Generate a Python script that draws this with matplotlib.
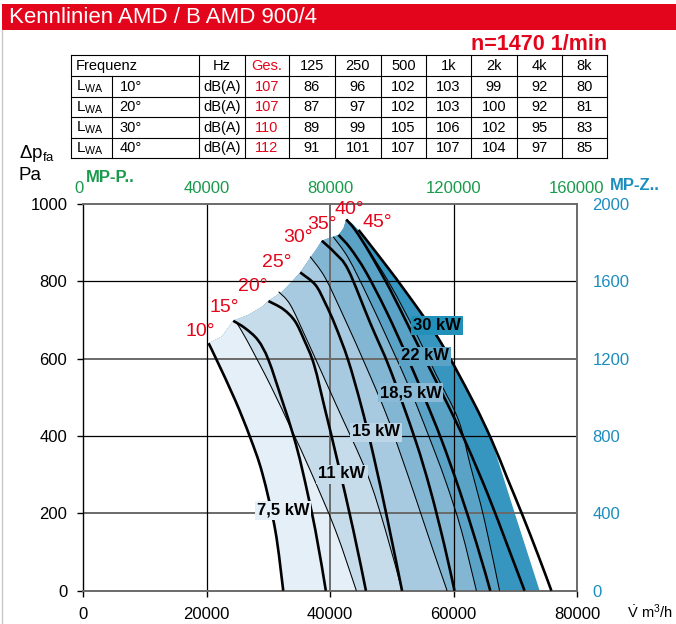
import matplotlib
matplotlib.use('Agg')
import matplotlib.pyplot as plt
from matplotlib.patches import Rectangle, PathPatch
from matplotlib.path import Path

plt.rcParams['font.family'] = ['Liberation Sans', 'DejaVu Sans']

# ---------------- data ----------------
title = 'Kennlinien AMD / B AMD 900/4'
speed = 'n=1470 1/min'

blade_angles = ['10°', '15°', '20°', '25°', '30°', '35°', '40°', '45°']

c10_x = [20300, 21600, 24600, 27000, 29000, 31100, 32400]
c10_y = [640, 597, 493, 398, 304, 157, 0]
c15_x = [24300, 26200, 28300, 30000, 32200, 34100, 35500, 37600, 39300]
c15_y = [698, 679, 648, 597, 493, 398, 312, 157, 0]
c20_x = [30000, 32400, 34300, 35800, 37400, 39200, 41150, 43750, 45800]
c20_y = [749, 728, 697, 648, 584, 467, 338, 157, 0]
c25_x = [35150, 37600, 39200, 40800, 42900, 45000, 47000, 49300, 51650]
c25_y = [823, 791, 744, 687, 597, 480, 351, 183, 0]
c30_x = [38650, 40800, 42950, 46500, 49750, 53800, 56250, 58500, 60150]
c30_y = [905, 873, 829, 692, 571, 390, 260, 118, 0]
c35_x = [41350, 43250, 45800, 49150, 52500, 55450, 58050, 60950, 63800, 65950]
c35_y = [920, 886, 824, 721, 604, 493, 390, 260, 118, 0]
c40_x = [42600, 44050, 46500, 49750, 53000, 56250, 59250, 62150, 65600, 68700, 71500]
c40_y = [960, 933, 871, 778, 674, 571, 475, 377, 247, 118, 0]
c45_x = [44600, 48650, 52850, 57900, 63050, 66150, 68700, 71150, 73700, 75850]
c45_y = [933, 850, 760, 643, 493, 390, 291, 196, 92, 0]

# stall line (upper edge of the working field), from 10° start to 45° start
stall_x = [20300, 22450, 24300, 26750, 28950, 30000, 32200, 33800, 35150, 36750,
           37850, 38650, 40000, 41350, 42150, 42600, 43550, 44600]
stall_y = [640, 657, 698, 713, 734, 749, 773, 799, 823, 860,
           885, 905, 913, 920, 937, 960, 950, 933]

# motor power limit lines (upper limit of each motor size)
motor_labels = ['7,5 kW', '11 kW', '15 kW', '18,5 kW', '22 kW', '30 kW']
lim_7k5_x = [24750, 26500, 30300, 33750, 36750, 40850, 44250]
lim_7k5_y = [695, 648, 532, 416, 312, 157, 0]
lim_11_x = [31650, 33550, 36250, 41000, 45950, 48950, 51650]
lim_11_y = [773, 739, 648, 480, 304, 157, 0]
lim_15_x = [36750, 39200, 42450, 45700, 48950, 51350, 53950, 56400, 58950]
lim_15_y = [864, 809, 700, 584, 462, 356, 235, 118, 0]
lim_18k5_x = [40500, 42950, 46200, 49750, 53000, 55900, 58650, 61250, 63700]
lim_18k5_y = [915, 860, 757, 635, 519, 403, 286, 157, 0]
lim_22_x = [43100, 45700, 49750, 53650, 57200, 60800, 62700, 65000, 67450]
lim_22_y = [953, 894, 791, 674, 558, 441, 325, 183, 0]
lim_30_x = [66150, 70000, 73950]
lim_30_y = [390, 196, 0]

# axes ticks
x_ticks = [0, 20000, 40000, 60000, 80000]
y_ticks = [0, 200, 400, 600, 800, 1000]
top_ticks = [0, 40000, 80000, 120000, 160000]
right_ticks = [0, 400, 800, 1200, 1600, 2000]

# sound table
freq_labels = ['125', '250', '500', '1k', '2k', '4k', '8k']
row_angles = ['10°', '20°', '30°', '40°']
lwa_total = [107, 107, 110, 112]
lwa_10 = [86, 96, 102, 103, 99, 92, 80]
lwa_20 = [87, 97, 102, 103, 100, 92, 81]
lwa_30 = [89, 99, 105, 106, 102, 95, 83]
lwa_40 = [91, 101, 107, 107, 104, 97, 85]

# ---------------- style ----------------
RED = '#e3051b'
GREEN = '#1a9a4c'
BLUE = '#1b8dbf'
band_colors = ['#e4eff7', '#c6dcea', '#a7cae0', '#82b6d2', '#5ba3c6', '#3796bf']
box_colors = ['#e4eff7', '#c6dcea', '#bcd6e7', '#8abad5', '#5ba3c6', '#2390ba']

W, H = 676, 624
fig = plt.figure(figsize=(W / 100, H / 100), dpi=100)


def smooth(xs, ys):
    """Cubic Bezier segments through the read points (Catmull-Rom tangents)."""
    pts = list(zip(xs, ys))
    n = len(pts)
    verts, codes = [], []
    for i in range(n - 1):
        p0 = pts[i - 1] if i > 0 else pts[i]
        p1, p2 = pts[i], pts[i + 1]
        p3 = pts[i + 2] if i + 2 < n else pts[i + 1]
        c1 = (p1[0] + (p2[0] - p0[0]) / 6, p1[1] + (p2[1] - p0[1]) / 6)
        c2 = (p2[0] - (p3[0] - p1[0]) / 6, p2[1] - (p3[1] - p1[1]) / 6)
        verts += [c1, c2, p2]
        codes += [Path.CURVE4] * 3
    return verts, codes


def curve_path(xs, ys):
    v, c = smooth(xs, ys)
    return Path([(xs[0], ys[0])] + v, [Path.MOVETO] + c)


# overlay in pixel coordinates for page decorations
ov = fig.add_axes([0, 0, 1, 1], zorder=0)
ov.set_xlim(0, W)
ov.set_ylim(H, 0)
ov.axis('off')
ov.add_patch(Rectangle((2, 4), W - 2, 26, fc=RED, ec='none'))
ov.text(8.6, 17.5, title, color='white', fontsize=16, va='center', ha='left')
ov.plot([2, 2], [30, H], color='#c8c8c8', lw=1)
ov.text(606.7, 44, speed, color=RED, fontsize=15.5, fontweight='bold', ha='right', va='center')

# table
col_x = [70.5, 111.5, 199.3, 244.5, 289, 335, 381, 426, 470.7, 516.7, 561.5, 606.7]
row_y = [55, 75.7, 96.5, 117.2, 137.8, 158]
for y in row_y:
    ov.plot([col_x[0], col_x[-1]], [y, y], color='black', lw=0.8)
for i, x in enumerate(col_x):
    y0 = row_y[1] if i == 1 else row_y[0]
    ov.plot([x, x], [y0, row_y[-1]], color='black', lw=0.8)


def cell_c(i):
    return (col_x[i] + col_x[i + 1]) / 2


def row_c(r):
    return (row_y[r] + row_y[r + 1]) / 2 + 0.5


tfs = 10.5
ov.text(col_x[0] + 5, row_c(0), 'Frequenz', fontsize=tfs, va='center')
ov.text(cell_c(2), row_c(0), 'Hz', fontsize=tfs, va='center', ha='center')
ov.text(cell_c(3), row_c(0), 'Ges.', fontsize=tfs, va='center', ha='center', color=RED)
for j, f in enumerate(freq_labels):
    ov.text(cell_c(4 + j), row_c(0), f, fontsize=tfs, va='center', ha='center')
rows = [lwa_10, lwa_20, lwa_30, lwa_40]
for r in range(4):
    yc = row_c(r + 1)
    ov.text(col_x[0] + 5, yc, r'$\mathregular{L_{WA}}$', fontsize=tfs + 0.5, va='center')
    ov.text(col_x[1] + 8, yc, row_angles[r], fontsize=tfs, va='center')
    ov.text(cell_c(2), yc, 'dB(A)', fontsize=tfs, va='center', ha='center')
    ov.text(cell_c(3), yc, str(lwa_total[r]), fontsize=tfs, va='center', ha='center', color=RED)
    for j, v in enumerate(rows[r]):
        ov.text(cell_c(4 + j), yc, str(v), fontsize=tfs, va='center', ha='center')

# axis captions
ov.text(19, 154, r'$\mathregular{\Delta p_{fa}}$', fontsize=13.5, va='center', ha='left')
ov.text(19, 176, 'Pa', fontsize=13.5, va='center', ha='left')
ov.text(86, 178, 'MP-P..', fontsize=12, color=GREEN, fontweight='bold', va='center', ha='left')
ov.text(610, 186, 'MP-Z..', fontsize=12, color=BLUE, fontweight='bold', va='center', ha='left')
ov.text(627, 612, r'$\mathregular{\dot{V}\ m^3/h}$', fontsize=10.5, va='center', ha='left')

# ---------------- main chart ----------------
x0, x1, yb, yt = 83.3, 577.0, 590.7, 204.0
ax = fig.add_axes([x0 / W, 1 - yb / H, (x1 - x0) / W, (yb - yt) / H], zorder=1)
ax.set_xlim(0, 80000)
ax.set_ylim(0, 1000)

# envelope of the working field
k = c45_x.index(lim_30_x[0])
ev = [(stall_x[0], stall_y[0])]
ec = [Path.MOVETO]
ev += list(zip(stall_x[1:], stall_y[1:]))
ec += [Path.LINETO] * (len(stall_x) - 1)
v, c = smooth(c45_x[:k + 1], c45_y[:k + 1])
ev += v
ec += c
ev += list(zip(lim_30_x[1:], lim_30_y[1:])) + [(c10_x[-1], c10_y[-1])]
ec += [Path.LINETO] * len(lim_30_x)
v, c = smooth(c10_x[::-1], c10_y[::-1])
ev += v + [(0, 0)]
ec += c + [Path.CLOSEPOLY]
env_patch = PathPatch(Path(ev, ec), fc=band_colors[5], ec='none', zorder=1)
ax.add_patch(env_patch)

limits = [(lim_7k5_x, lim_7k5_y), (lim_11_x, lim_11_y), (lim_15_x, lim_15_y),
          (lim_18k5_x, lim_18k5_y), (lim_22_x, lim_22_y)]
for i in range(4, -1, -1):
    lx, ly = limits[i]
    pv = [(lx[0], 1500), (lx[0], ly[0])]
    pc = [Path.MOVETO, Path.LINETO]
    v, c = smooth(lx, ly)
    pv += v + [(lx[-1], -200), (-10000, -200), (-10000, 1500), (0, 0)]
    pc += c + [Path.LINETO, Path.LINETO, Path.LINETO, Path.CLOSEPOLY]
    p = PathPatch(Path(pv, pc), fc=band_colors[i], ec='none', zorder=1.1 + (4 - i) * 0.01)
    ax.add_patch(p)
    p.set_clip_path(env_patch)

# grid
for yv in y_ticks[1:-1]:
    gray = yv in (600, 200)
    ax.axhline(yv, color='#6a6a6a' if gray else 'black', lw=1.4 if gray else 0.9, zorder=2)
for xv in x_ticks[1:-1]:
    gray = xv == 40000
    ax.axvline(xv, color='#6a6a6a' if gray else 'black', lw=1.4 if gray else 0.9, zorder=2)
for s in ['top', 'bottom', 'right']:
    ax.spines[s].set_color('#6a6a6a')
    ax.spines[s].set_linewidth(1.4)
ax.spines['left'].set_color('black')
ax.spines['left'].set_linewidth(1.0)

# limit lines (thin)
for lx, ly in limits:
    ax.add_patch(PathPatch(curve_path(lx, ly), fill=False, ec='black', lw=0.75, zorder=3))

# blade angle curves (thick)
curves = [(c10_x, c10_y), (c15_x, c15_y), (c20_x, c20_y), (c25_x, c25_y),
          (c30_x, c30_y), (c35_x, c35_y), (c40_x, c40_y), (c45_x, c45_y)]
for cx, cy in curves:
    ax.add_patch(PathPatch(curve_path(cx, cy), fill=False, ec='black', lw=1.9,
                           zorder=4, capstyle='butt'))

ax.set_xticks(x_ticks)
ax.set_xticklabels([str(v) for v in x_ticks])
ax.set_yticks(y_ticks)
ax.set_yticklabels([str(v) for v in y_ticks])
ax.tick_params(axis='both', direction='out', length=4.5, width=1, labelsize=12)
ax.tick_params(axis='x', pad=7)
ax.tick_params(axis='y', pad=7)

top = ax.secondary_xaxis('top', functions=(lambda q: q * 2, lambda q: q / 2))
top.set_xticks(top_ticks)
top.set_xticklabels([str(v) for v in top_ticks])
top.tick_params(length=0, pad=6, labelsize=12, labelcolor=GREEN)
top.spines['top'].set_visible(False)
top.get_xticklabels()[0].set_horizontalalignment('right')

right = ax.secondary_yaxis('right', functions=(lambda q: q * 2, lambda q: q / 2))
right.set_yticks(right_ticks)
right.set_yticklabels([str(v) for v in right_ticks])
right.tick_params(length=0, pad=11, labelsize=12, labelcolor=BLUE)
right.spines['right'].set_visible(False)

# blade angle labels (pixel positions)
angle_pos = [(200, 331), (224, 307.5), (253, 287), (277, 262.5),
             (298, 238), (322, 224), (349, 209.5), (377, 222.5)]
for lab, (px, py) in zip(blade_angles, angle_pos):
    fig.text(px / W, 1 - py / H, lab, color=RED, fontsize=14, ha='center', va='center', zorder=6)

# motor labels
motor_pos = [(283, 510), (342, 474), (376, 432), (410.5, 392.5), (425, 356), (437, 325)]
for lab, (px, py), bc in zip(motor_labels, motor_pos, box_colors):
    fig.text(px / W, 1 - py / H, lab, fontsize=12, fontweight='bold', ha='center', va='center',
             zorder=6, bbox=dict(boxstyle='square,pad=0.12', fc=bc, ec='none'))

fig.savefig('out.png', dpi=100, facecolor='white')
